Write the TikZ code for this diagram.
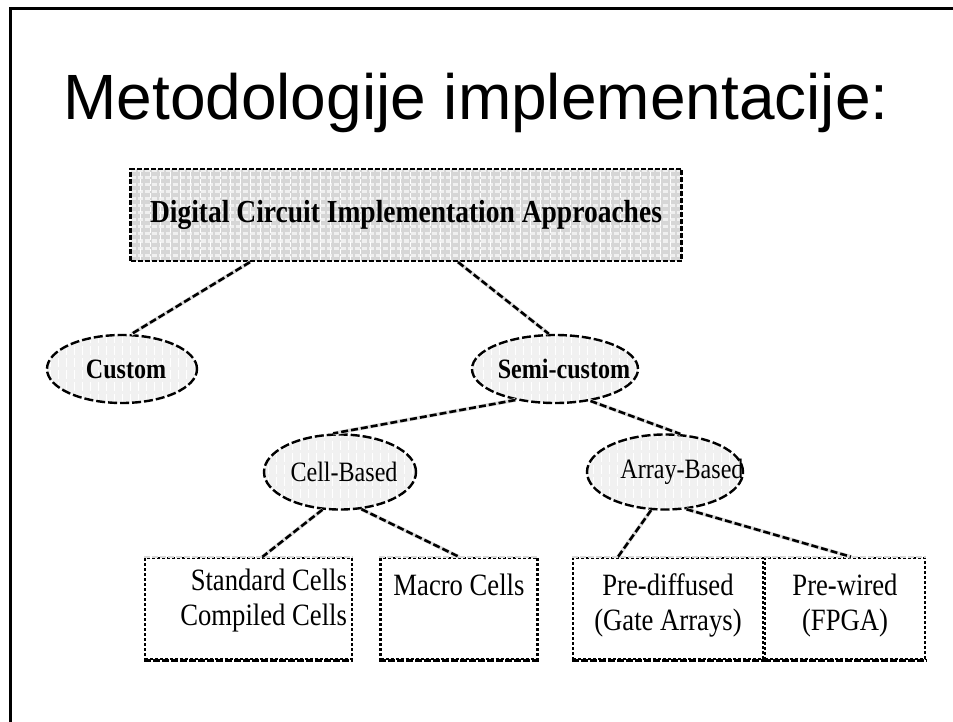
\documentclass[tikz,border=0pt]{standalone}
\usepackage{fontspec}
\setmainfont{Liberation Serif}
\newfontfamily\slidefont{Liberation Sans}
\newfontfamily\treefont[FakeStretch=0.86]{Liberation Serif}
\usetikzlibrary{shapes.geometric}
\usetikzlibrary{positioning}
\tikzset{slideframe/.style = {draw, line width = 3pt}}
\tikzset{dashlink/.style = {line width = 2.6pt, dash pattern = on 7pt off 3pt,
                            preaction = {draw = gray!25, solid, line width = 3.8pt}}}
\tikzset{rootbox/.style = {draw, line width = 2.2pt, dash pattern = on 5pt off 2pt,
                           fill = gray!32, minimum width = 551, minimum height = 92,
                           font = \treefont\bfseries\fontsize{32}{36}\selectfont,
                           path picture = {
                             \foreach \s in {2,9,...,100}
                               \draw [gray!12, line width = 3pt]
                                 ([yshift = -\s pt] path picture bounding box.north west)
                                 -- ([yshift = -\s pt] path picture bounding box.north east);
                             \draw [white, line width = 0.8pt, xstep = 10, ystep = 1000]
                               (path picture bounding box.south west) grid (path picture bounding box.north east);}}}
\tikzset{oval/.style = {ellipse, draw, line width = 2.4pt, dash pattern = on 9pt off 3pt,
                        fill = gray!11, inner sep = 0,
                        path picture = {
                          \draw [white, line width = 0.7pt, step = 8]
                            (path picture bounding box.south west) grid (path picture bounding box.north east);}}}
\tikzset{boldlabel/.style = {font = \treefont\bfseries\fontsize{28}{30}\selectfont}}
\tikzset{plainlabel/.style = {font = \treefont\fontsize{28}{30}\selectfont}}
\tikzset{leafbox/.style = {draw, line width = 2.4pt, dash pattern = on 3pt off 2pt,
                           minimum height = 101}}
\tikzset{leaftop/.style = {draw = gray!30, line width = 2.4pt, dash pattern = on 6pt off 2pt}}
\tikzset{leafbottom/.style = {draw, line width = 2.8pt, dash pattern = on 7pt off 2pt}}
\tikzset{leaftext/.style = {font = \treefont\fontsize{31}{35}\selectfont, inner sep = 0}}

\begin{document}
\begin{tikzpicture}[x = 1pt, y = -1pt]
  \useasboundingbox (0, 0) rectangle (953, 722);
  \draw [slideframe] (10.5, 740) -- (10.5, 8.5) -- (970, 8.5);
  \node [anchor = base, inner sep = 0, font = \slidefont\fontsize{64}{70}\selectfont]
    (title) at (476, 120) {Metodologije implementacije:};

  % tree of approaches
  \node [rootbox] (root) at (406, 215) {Digital Circuit Implementation Approaches};
  \node [oval, minimum width = 150, minimum height = 68,
         label = {[xshift = 4pt, boldlabel]center:Custom}] (custom) at (122, 369) {};
  \node [oval, minimum width = 166, minimum height = 68,
         label = {[xshift = 9pt, boldlabel]center:Semi-custom}] (semi) at (555, 369) {};
  \node [oval, minimum width = 152, minimum height = 75,
         label = {[xshift = 4pt, plainlabel]center:Cell-Based}] (cell) at (340, 472) {};
  \node [oval, minimum width = 156, minimum height = 75,
         label = {[xshift = 17pt, plainlabel]center:Array-Based}] (array) at (665, 472) {};

  \node [leafbox, minimum width = 207] (std) at (248.5, 608.5) {};
  \node [leafbox, minimum width = 157] (macro) at (459, 608.5) {};
  \node [leafbox, minimum width = 190] (prediff) at (668, 608.5) {};
  \node [leafbox, minimum width = 160] (prewired) at (845, 608.5) {};
  \foreach \b in {std, macro, prediff, prewired} {
    \draw [leaftop] (\b.north west) -- (\b.north east);
    \draw [leafbottom] (\b.south west) -- (\b.south east);
  }

  \node [leaftext, align = right, below left = 12pt and 6pt of std.north east] (stdtext)
    {Standard Cells\\Compiled Cells};
  \node [leaftext, below = 17pt of macro.north] (macrotext) {Macro Cells};
  \node [leaftext, align = center, below = 17pt of prediff.north] (prediffext)
    {Pre-diffused\\(Gate Arrays)};
  \node [leaftext, align = center, below = 17pt of prewired.north] (prewiredtext)
    {Pre-wired\\(FPGA)};

  \draw [dashlink] ([xshift = -156pt] root.south) -- (custom.75);
  \draw [dashlink] ([xshift = 52pt] root.south) -- (semi.100);
  \draw [dashlink] (semi.218) -- (cell.100);
  \draw [dashlink] (semi.318) -- (array.68);
  \draw [dashlink] (cell.245) -- ([xshift = 14pt] std.north);
  \draw [dashlink] (cell.300) -- (macro.north);
  \draw [dashlink] (array.250) -- ([xshift = -50pt] prediff.north);
  \draw [dashlink] (array.300) -- ([xshift = 6pt] prewired.north);
\end{tikzpicture}
\end{document}
